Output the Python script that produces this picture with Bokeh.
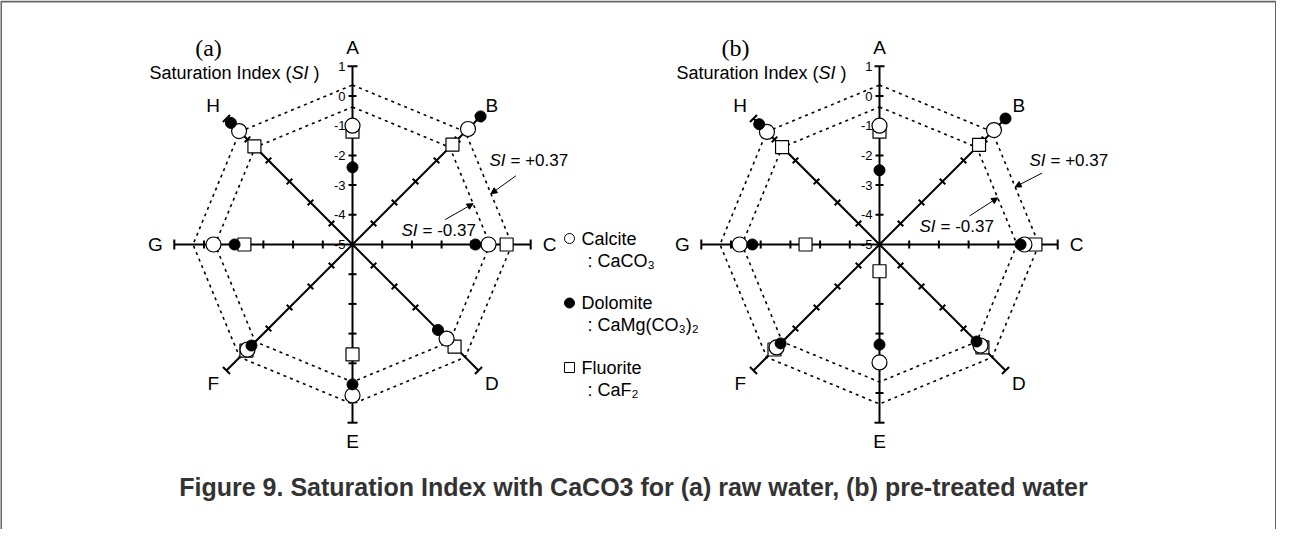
import math
from bokeh.plotting import figure
from bokeh.models import Range1d, Arrow, NormalHead
from bokeh.core.properties import value
from bokeh.embed import file_html
from bokeh.resources import INLINE

# ---------------- data ----------------
AXES = ["A", "B", "C", "D", "E", "F", "G", "H"]
ANGLES = [90, 45, 0, -45, -90, -135, 180, 135]
TICK_VALUES = [1, 0, -1, -2, -3, -4, -5]
SI_MIN, SI_MAX = -5, 1
SI_LINES = [0.37, -0.37]
PANELS = ["(a)", "(b)"]

calcite_a = [-1.0, 0.5, -0.42, -0.52, 0.08, 0.0, -0.32, 0.4]
dolomite_a = [-2.4, 1.1, -0.86, -0.93, -0.29, -0.19, -1.03, 0.79]
fluorite_a = [-1.2, -0.24, 0.19, -0.14, -1.3, 0.05, -1.36, -0.33]

calcite_b = [-1.0, 0.45, -0.12, -0.19, -1.03, -0.1, -0.29, 0.36]
dolomite_b = [-2.5, 1.0, -0.25, -0.38, -1.63, -0.29, -0.72, 0.73]
fluorite_b = [-1.2, -0.26, 0.25, -0.1, -4.1, 0.0, -2.51, -0.36]

SERIES = [
    {"calcite": calcite_a, "dolomite": dolomite_a, "fluorite": fluorite_a},
    {"calcite": calcite_b, "dolomite": dolomite_b, "fluorite": fluorite_b},
]
LEGEND_NAMES = ["Calcite", "Dolomite", "Fluorite"]
LEGEND_FORMULAS = [": CaCO\u2083", ": CaMg(CO\u2083)\u2082", ": CaF\u2082"]
CAPTION = "Figure 9. Saturation Index with CaCO3 for (a) raw water, (b) pre-treated water"

# ---------------- layout ----------------
W, H = 1276, 529
UNIT = 29.7                      # px per SI unit
CENTERS = [(352, 285), (879, 285)]
FONT = "Liberation Sans"

# annotation layout per panel: (text dx, text dy, edge t, arrow start dx, dy)
ANNOT = [
    {0.37: (137, 84, 0.55, 25, 18), -0.37: (49, 14, 0.58, -28, -16)},
    {0.37: (150, 84, 0.49, 27, 14), -0.37: (40, 18, 0.52, -28, -18)},
]

p = figure(width=W, height=H, x_range=Range1d(0, W), y_range=Range1d(0, H),
           output_backend="svg", toolbar_location=None, min_border=0,
           x_axis_location=None, y_axis_location=None)
p.grid.visible = False
p.outline_line_color = None
p.background_fill_color = "white"


def rpx(v):
    return (v - SI_MIN) * UNIT


def pt(c, r, ang):
    a = math.radians(ang)
    return c[0] + r * math.cos(a), c[1] + r * math.sin(a)


# frame (left, top, right)
p.line([0.5, 0.5, W - 0.5, W - 0.5], [0, H - 1, H - 1, 0], line_color="#666666", line_width=2)

for k, c in enumerate(CENTERS):
    # dotted octagons
    for lev in SI_LINES:
        xs, ys = [], []
        for ang in ANGLES + ANGLES[:1]:
            x, y = pt(c, rpx(lev), ang)
            xs.append(x); ys.append(y)
        p.line(xs, ys, line_color="black", line_width=1.6, line_dash="3 4")

    # axes
    axs, ays = [], []
    txs, tys = [], []
    for ang in ANGLES:
        x1, y1 = pt(c, rpx(SI_MAX), ang)
        axs.append([c[0], x1]); ays.append([c[1], y1])
        for v in TICK_VALUES:
            if v == SI_MIN:
                continue
            half = 5 if v == SI_MAX else 4
            bx, by = pt(c, rpx(v), ang)
            ox, oy = pt((0, 0), half, ang + 90)
            txs.append([bx - ox, bx + ox]); tys.append([by - oy, by + oy])
    p.multi_line(axs, ays, line_color="black", line_width=2)
    p.multi_line(txs, tys, line_color="black", line_width=2)

    # axis labels
    lx, ly = [], []
    for ang in ANGLES:
        x, y = pt(c, 197, ang)
        lx.append(x); ly.append(y)
    p.text(lx, ly, text=AXES, text_font=value(FONT), text_font_size="19px",
           text_align="center", text_baseline="middle", text_color="black")

    # tick labels on A axis
    p.text([c[0] - 7] * len(TICK_VALUES), [c[1] + rpx(v) for v in TICK_VALUES],
           text=[str(v) for v in TICK_VALUES], text_font=value(FONT), text_font_size="13px",
           text_align="right", text_baseline="middle", text_color="black")

    # panel label and axis title
    p.text([c[0] - 144], [c[1] + 197], text=[PANELS[k]], text_font=value("Liberation Serif"),
           text_font_size="24px", text_align="center", text_baseline="middle")
    tx = c[0] - 61
    ty = c[1] + 172
    p.text([tx], [ty], text=["Saturation Index ("], text_font=value(FONT), text_font_size="18px",
           text_align="right", text_baseline="middle")
    p.text([tx], [ty], text=["SI"], text_font=value(FONT), text_font_size="18px",
           text_font_style="italic", text_align="left", text_baseline="middle")
    p.text([tx + 22], [ty], text=[")"], text_font=value(FONT), text_font_size="18px",
           text_align="left", text_baseline="middle")

    # SI = +/-0.37 annotations
    bi, ci = AXES.index("B"), AXES.index("C")
    for lev in SI_LINES:
        tdx, tdy, t, sdx, sdy = ANNOT[k][lev]
        bx, by = pt(c, rpx(lev), ANGLES[bi])
        cx_, cy_ = pt(c, rpx(lev), ANGLES[ci])
        ex, ey = bx + t * (cx_ - bx), by + t * (cy_ - by)
        p.add_layout(Arrow(end=NormalHead(size=6, fill_color="black", line_color="black"),
                           x_start=ex + sdx, y_start=ey + sdy, x_end=ex, y_end=ey,
                           line_width=1, line_color="black"))
        sx, sy = c[0] + tdx, c[1] + tdy
        p.text([sx], [sy], text=["SI"], text_font=value(FONT), text_font_size="17px",
               text_font_style="italic", text_align="left", text_baseline="middle")
        p.text([sx + 21], [sy], text=["= %+.2f" % lev], text_font=value(FONT),
               text_font_size="17px", text_align="left", text_baseline="middle")

    # data markers
    s = SERIES[k]
    def coords(vals):
        xs, ys = [], []
        for v, ang in zip(vals, ANGLES):
            x, y = pt(c, rpx(v), ang)
            xs.append(x); ys.append(y)
        return xs, ys
    fx, fy = coords(s["fluorite"])
    p.scatter(fx, fy, marker="square", size=13, fill_color="white", line_color="black", line_width=1.2)
    cx2, cy2 = coords(s["calcite"])
    p.scatter(cx2, cy2, marker="circle", size=15, fill_color="white", line_color="black", line_width=1.2)
    dx2, dy2 = coords(s["dolomite"])
    p.scatter(dx2, dy2, marker="circle", size=11, fill_color="black", line_color="black")

# legend
LX, LY0, LDY = 569, 291, 64.5
lys = [LY0 - i * LDY for i in range(3)]
p.scatter([LX], [lys[0]], marker="circle", size=10, fill_color="white", line_color="black")
p.scatter([LX], [lys[1]], marker="circle", size=10, fill_color="black", line_color="black")
p.scatter([LX], [lys[2]], marker="square", size=10, fill_color="white", line_color="black")
p.text([LX + 12] * 3, lys, text=LEGEND_NAMES, text_font=value(FONT), text_font_size="18px",
       text_align="left", text_baseline="middle")
p.text([LX + 18] * 3, [y - 22 for y in lys], text=LEGEND_FORMULAS, text_font=value(FONT),
       text_font_size="18px", text_align="left", text_baseline="middle")

# caption
p.text([633], [43], text=[CAPTION], text_font=value(FONT), text_font_size="25px",
       text_font_style="bold", text_align="center", text_baseline="middle", text_color="#333333")

open("out.html", "w").write(file_html(p, INLINE))
